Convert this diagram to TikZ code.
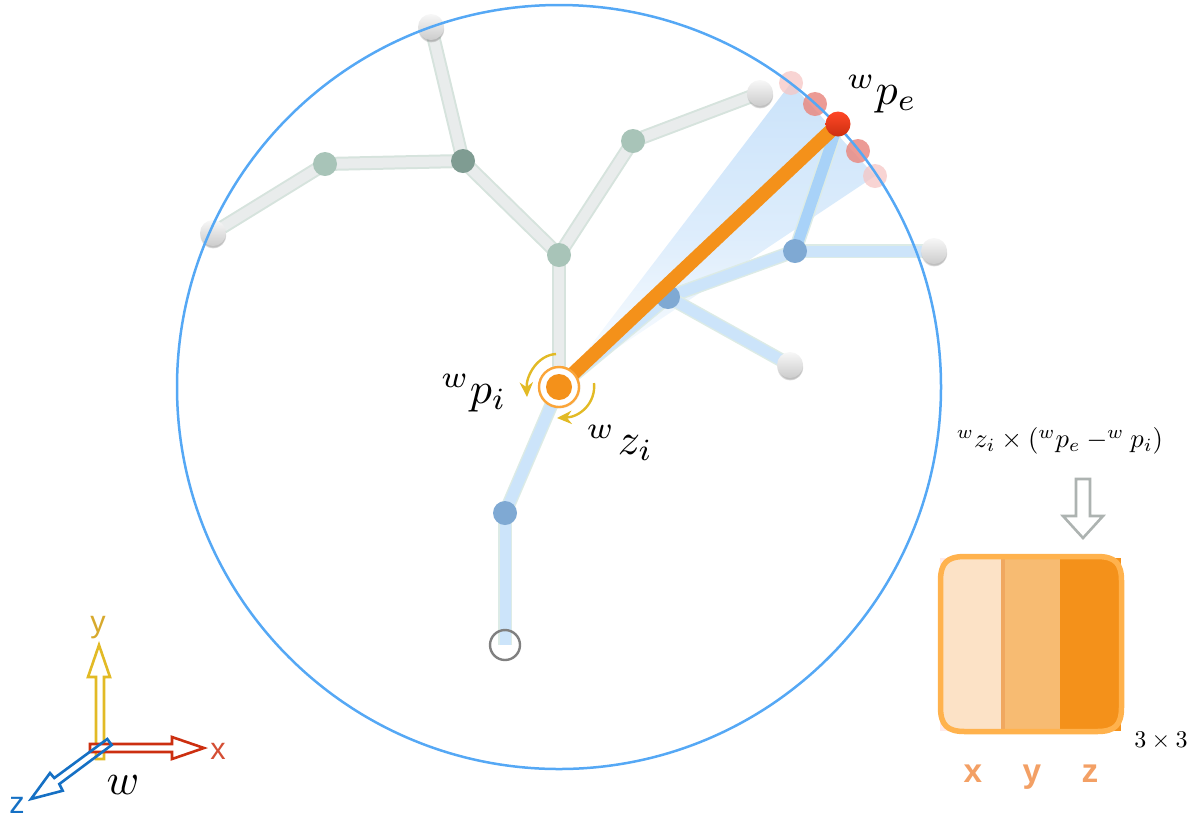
\documentclass[tikz,border=0pt]{standalone}
\usepackage{fontspec}
\newfontfamily\hv{Liberation Sans}
\usetikzlibrary{arrows.meta,shadows,backgrounds}
\pgfdeclarelayer{bg}\pgfdeclarelayer{lower}\pgfdeclarelayer{mid}
\pgfsetlayers{bg,lower,mid,main}
\definecolor{ringblue}{HTML}{55A8F5}
\definecolor{fanblue}{HTML}{CBE3FA}
\definecolor{grayedge}{HTML}{D6E3DD}
\definecolor{grayfill}{HTML}{E9ECEC}
\definecolor{blueedge}{HTML}{DCEBE6}
\definecolor{bluefill}{HTML}{CCE4FA}
\definecolor{bluestrong}{HTML}{A8D2F8}
\definecolor{jointgreen}{HTML}{A8C4B8}
\definecolor{jointdark}{HTML}{7F9C92}
\definecolor{jointblue}{HTML}{7FA9D3}
\definecolor{orangeM}{HTML}{F4911A}
\definecolor{orangeB}{HTML}{FFB24D}
\definecolor{orangeL}{HTML}{FCE2C6}
\definecolor{orangeS}{HTML}{F0A860}
\definecolor{orangeT}{HTML}{F7BB72}
\definecolor{yellowA}{HTML}{E2BA25}
\definecolor{redA}{HTML}{CC2F10}
\definecolor{blueA}{HTML}{1570C4}
\definecolor{grayA}{HTML}{ADB3B1}
\definecolor{lblorange}{HTML}{F3A065}
\definecolor{ghostS}{HTML}{E98A82}
\definecolor{ghostL}{HTML}{F6C6C4}
\tikzset{
  disc/.style={circle,inner sep=0pt,minimum size=#1,draw=none},
  tipball/.style={disc=26*0.75pt,top color=white!94!gray,bottom color=black!20,
     circular drop shadow={shadow xshift=0pt,shadow yshift=-1.6pt,shadow scale=1.03,opacity=.5}},
  jointG/.style={disc=24*0.75pt,fill=jointgreen},
  jointD/.style={disc=24*0.75pt,fill=jointdark},
  jointB/.style={disc=24*0.75pt,fill=jointblue},
  ghost/.style={disc=24*0.75pt,fill=#1},
  linkG/.style={line width=14*0.75pt,draw=grayedge,postaction={draw=grayfill,line width=10*0.75pt}},
  linkB/.style={line width=14*0.75pt,draw=blueedge,postaction={draw=bluefill,line width=11*0.75pt}},
  linkS/.style={line width=14*0.75pt,draw=blueedge,postaction={draw=bluestrong,line width=11*0.75pt}},
  hollow/.style={line width=2.6*0.75pt,fill=white,line join=miter},
  bigmath/.style={inner sep=0pt,scale=3.3,text=black},
  axlabel/.style={inner sep=0pt,font=\hv\fontsize{23}{23}\selectfont},
  colhead/.style={inner sep=0pt,text=lblorange,font=\hv\bfseries\fontsize{25}{25}\selectfont},
  turn/.style={draw=yellowA,line width=2.4*0.75pt,-{Stealth[length=11pt,width=10pt]}}
}
\begin{document}
\begin{tikzpicture}[x=0.75pt,y=-0.75pt]
\useasboundingbox (0,0) rectangle (1201,819);
% fan
\begin{pgfonlayer}{bg}
\shade[shading angle=45,top color=fanblue,bottom color=white,middle color=fanblue!65!white]
  (559,387) -- (791,83) -- (875,176) -- cycle;
\end{pgfonlayer}
% joints
\begin{pgfonlayer}{lower}
\node[tipball] (t1) at (431,27) {};
\node[tipball] (t2) at (213,233) {};
\node[tipball] (t3) at (760,93) {};
\node[tipball] (t4) at (934,251) {};
\node[tipball] (t5) at (790,365) {};
\node[jointG] (g1) at (325,164) {};
\node[jointD] (g2) at (463,161) {};
\node[jointG] (g3) at (559,255) {};
\node[jointG] (g4) at (633,141) {};
\node[jointB] (b1) at (505,513) {};
\node[jointB] (b2) at (668,297) {};
\node[jointB] (b3) at (795,251) {};
\node[disc=30*0.75pt,draw=black!50,line width=2.4*0.75pt] (base) at (505,645) {};
\node[ghost=ghostS,opacity=.85] (e1) at (815,104) {};
\node[ghost=ghostS,opacity=.85] (e2) at (858,151) {};
\node[ghost=ghostL,opacity=.75] (e3) at (791,83) {};
\node[ghost=ghostL,opacity=.75] (e4) at (875,176) {};
\end{pgfonlayer}
% main ring and highlighted nodes
\draw[ringblue,line width=2.5*0.75pt] (559,387) circle [radius=382];
\node[disc=40*0.75pt,draw=orangeB!60!orangeM,line width=2.4*0.75pt,fill=white,
      circular drop shadow={shadow xshift=0pt,shadow yshift=0pt,opacity=.25}] (ring) at (559,387) {};
\node[disc=26*0.75pt,fill=orangeM] (root) at (559,387) {};
\node[disc=25*0.75pt,top color=red!70!orange!85!white,bottom color=redA] (pe) at (838,124) {};
% links
\begin{pgfonlayer}{bg}
\draw[linkG] (root.center) -- (g3.center);
\draw[linkG] (g3.center) -- (g2.center);
\draw[linkG] (g2.center) -- (t1.center);
\draw[linkG] (g2.center) -- (g1.center);
\draw[linkG] (g1.center) -- (t2.center);
\draw[linkG] (g3.center) -- (g4.center);
\draw[linkG] (g4.center) -- (t3.center);
\draw[linkB] (root.center) -- (b1.center);
\draw[linkB] (b1.center) -- (base.center);
\draw[linkB] (root.center) -- (b2.center);
\draw[linkB] (b2.center) -- (b3.center);
\draw[linkB] (b2.center) -- (t5.center);
\draw[linkB] (b3.center) -- (t4.center);
\draw[linkS] (b3.center) -- (pe.center);
\end{pgfonlayer}
\begin{pgfonlayer}{mid}
\draw[orangeM,line width=14*0.75pt] (root.center) -- (pe.center);
\end{pgfonlayer}
% rotation arrows
\coordinate (r1s) at (556,354);
\coordinate (r1e) at (527,397);
\coordinate (r2s) at (594,383);
\coordinate (r2e) at (557,418);
\draw[turn] (r1s) .. controls (538,355) and (526,375) .. (r1e);
\draw[turn] (r2s) .. controls (596,403) and (580,417) .. (r2e);
% labels
\node[bigmath] (lpe) at (882,94) {$^{w}p_{e}$};
\node[bigmath] (lpi) at (474,393) {$^{w}p_{i}$};
\node[bigmath] (lzi) at (620,443) {$^{w}\mskip1mu z_{i}$};
\node[inner sep=0pt,scale=2.0] (formula) at (1060,441) {$^{w}z_{i}\times(^{w}p_{e}-^{w}p_{i})$};
% hollow down arrow
\draw[hollow,draw=grayA] (1076,479) -- (1090,479) -- (1090,516) -- (1103,516) -- (1083,538) -- (1063,516) -- (1076,516) -- cycle;
% matrix
\fill[red!8!white] (940,558) rectangle (1001,731);
\fill[orangeL] (1001,558) -- (964,558) .. controls (948,558) and (943,563) .. (943,580) -- (943,710) .. controls (943,726) and (948,731) .. (964,731) -- (1001,731) -- cycle;
\fill[orangeS] (1001,558) rectangle (1005,731);
\fill[orangeT] (1005,558) rectangle (1060,731);
\fill[orangeM] (1060,558) rectangle (1121,731);
\draw[orangeB,line width=5.5*0.75pt] (965,556.5) -- (1097,556.5) .. controls (1115,556.5) and (1121.5,563) .. (1121.5,581) -- (1121.5,707) .. controls (1121.5,725) and (1115,731.5) .. (1097,731.5) -- (965,731.5) .. controls (947,731.5) and (940.5,725) .. (940.5,707) -- (940.5,581) .. controls (940.5,563) and (947,556.5) .. (965,556.5) -- cycle;
\node[inner sep=0pt,scale=1.8] (dim) at (1161,741) {$3\times3$};
\node[colhead] (cx) at (973,774) {x};
\node[colhead] (cy) at (1032,777) {y};
\node[colhead] (cz) at (1090,774) {z};
% axes
\draw[hollow,draw=yellowA] (96,759) -- (104,759) -- (104,677) -- (110,677) -- (99,645) -- (88,677) -- (96,677) -- cycle;
\draw[hollow,draw=redA] (90,744) -- (172,744) -- (172,737) -- (204,748) -- (172,759) -- (172,752) -- (90,752) -- cycle;
\draw[hollow,draw=blueA,fill=none] (107.3,739) -- (54.3,778) -- (50,773) -- (31,799) -- (62.7,790.7) -- (59.3,784) -- (111.7,745) -- cycle;
\node[axlabel,text=yellowA!70!brown] (ly) at (98,628) {y};
\node[axlabel,text=redA!85!white] (lx) at (218,751) {x};
\node[axlabel,text=blueA] (lz) at (17,805) {z};
\node[bigmath] (lw) at (123,785) {$w$};
\end{tikzpicture}
\end{document}
